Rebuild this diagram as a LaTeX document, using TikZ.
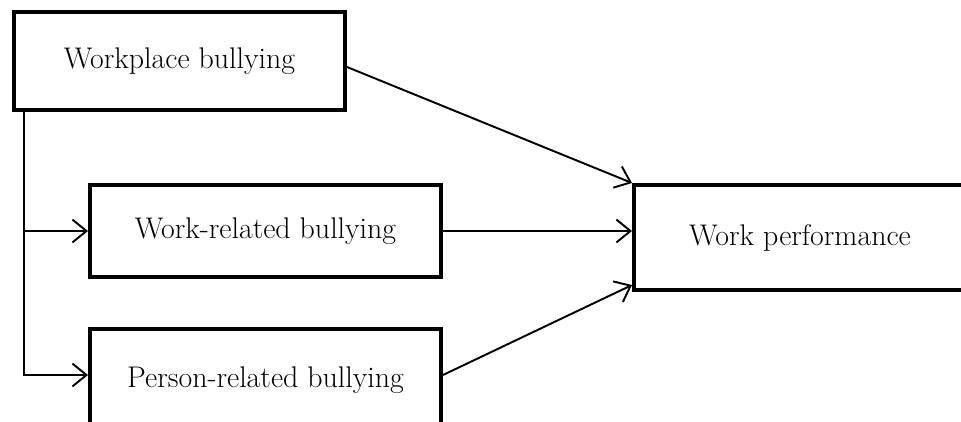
\documentclass[tikz,border=0pt]{standalone}
\usepackage{tikz}
\usetikzlibrary{arrows.meta,positioning}
\tikzset{
	factor/.style = {draw, line width = 2.3pt, inner sep = 0mm, align = center,
		font = \fontsize{17}{20}\selectfont},
	link/.style = {-{Straight Barb[length = 8pt, width = 13pt, line width = 1.1pt]}, line width = 1.1pt}
}

\begin{document}
\begin{tikzpicture}[x = 0.02cm, y = -0.02cm]
			% frame
			\useasboundingbox (0, 0) rectangle (961, 422);

			% boxes
			\node [factor, minimum width = 6.62cm, minimum height = 1.96cm] (wpb) at (179.5, 61) {Workplace bullying};
			\node [factor, minimum width = 7.02cm, minimum height = 1.84cm] (wrb) at (265.5, 231) {Work-related bullying};
			\node [factor, minimum width = 7.02cm, minimum height = 2.04cm] (prb) at (265.5, 380) {Person-related bullying};
			\node [factor, minimum width = 6.64cm, minimum height = 2.1cm] (wperf) at (800, 237.5) {Work performance};

			% left branch
			\coordinate (trunk) at ([xshift = 0.24cm]wpb.south west);
			\draw [link] (trunk) |- ([yshift = 0.1cm]prb.west);
			\draw [link] (trunk |- wrb.west) -- (wrb.west);

			% into performance
			\draw [link] ([yshift = -0.12cm]wpb.east) -- (wperf.north west);
			\draw [link] (wrb.east) -- (wrb.east -| wperf.west);
			\draw [link] ([yshift = 0.1cm]prb.east) -- ([yshift = 0.14cm]wperf.south west);
		\end{tikzpicture}
\end{document}
